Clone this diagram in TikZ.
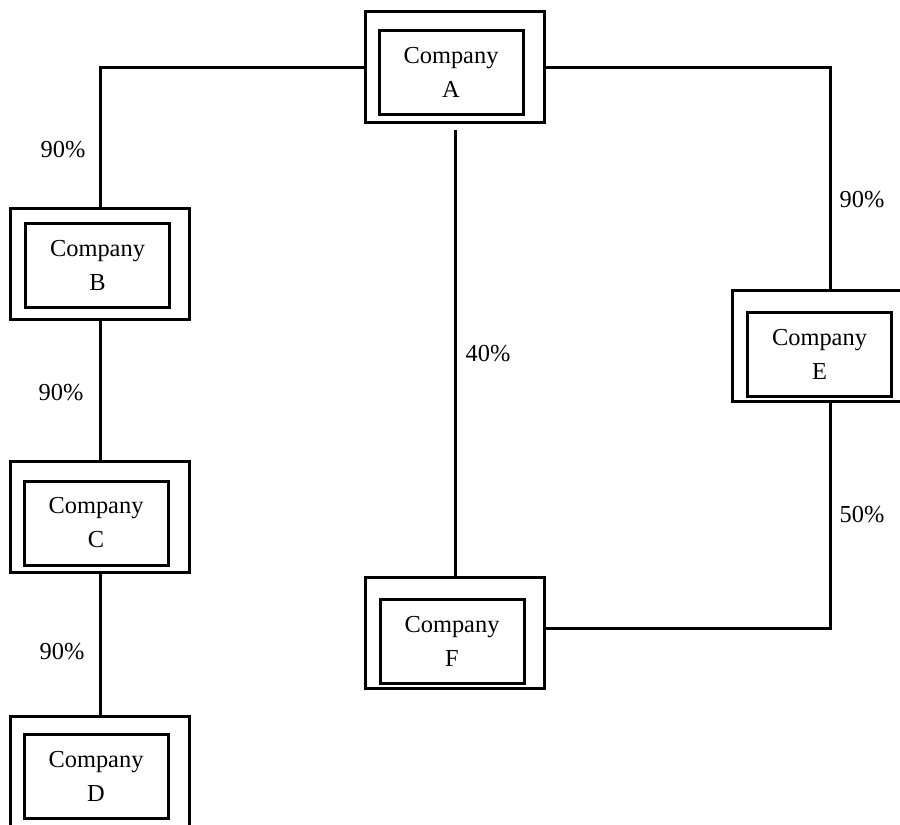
\documentclass[tikz,border=0pt]{standalone}
\usepackage{fontspec}
\setmainfont{Liberation Serif}
\usetikzlibrary{positioning}

\begin{document}
\begin{tikzpicture}[x=0.5pt, y=-0.5pt, line width=1.5pt,
		outerbox/.style={draw, minimum width=89.5pt, minimum height=55.5pt, inner sep=0pt},
		innerbox/.style={draw, minimum width=72pt, minimum height=42pt, inner sep=0pt, align=center, font=\fontsize{12.2}{17}\selectfont},
		pct/.style={inner sep=0pt, font=\fontsize{12.2}{15}\selectfont}
		]
		\useasboundingbox (0,0) rectangle (900,825);
		\clip (0,0) rectangle (900,825);

		\node[outerbox] (A) at (455,67) {};
		\node[innerbox] (Ai) at (451,72) {Company\\A};
		\node[outerbox] (B) at (100,263.5) {};
		\node[innerbox] (Bi) at (97.5,265) {Company\\B};
		\node[outerbox] (C) at (100,516.5) {};
		\node[innerbox] (Ci) at (96,523) {Company\\C};
		\node[outerbox] (D) at (100,772) {};
		\node[innerbox] (Di) at (96,776) {Company\\D};
		\node[outerbox] (E) at (821.5,346) {};
		\node[innerbox] (Ei) at (819.5,354) {Company\\E};
		\node[outerbox] (F) at (455,633) {};
		\node[innerbox] (Fi) at (452,641) {Company\\F};

		\coordinate (AE) at (830,67);
		\coordinate (FE) at (830,628);

		\draw (A.west) -| (B.north);
		\draw (B.south) -- (C.north);
		\draw (C.south) -- (D.north);
		\draw[shorten <=3pt] (A.south) -- (F.north);
		\draw (A.east) -- (AE) -- (E.north -| AE);
		\draw (F.east |- FE) -- (FE) -- (E.south -| AE);

		\node[pct] (AB) at (63,150) {90\%};
		\node[pct] (BC) at (61,393) {90\%};
		\node[pct] (CD) at (62,652) {90\%};
		\node[pct] (AF) at (488,354) {40\%};
		\node[pct] (AEl) at (862,200) {90\%};
		\node[pct] (FEl) at (862,515) {50\%};
	\end{tikzpicture}
\end{document}
